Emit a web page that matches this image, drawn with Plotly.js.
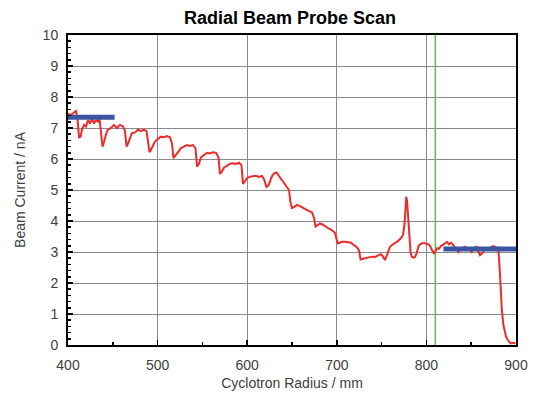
<!DOCTYPE html>
<html>
<head>
<meta charset="utf-8">
<script src="https://cdn.plot.ly/plotly-3.0.1.min.js"></script>
<style>html,body{margin:0;padding:0;background:#fff;}#chart{width:537px;height:399px;}</style>
</head>
<body>
<div id="chart"></div>
<script>
// Radial probe scan: radius (mm) and beam current (nA)
const radius = [400,403.3,406.7,408.9,410.6,412.3,414.0,415.6,417.9,420.1,422.3,424.6,426.8,429.0,431.3,433.5,435.2,436.8,438.5,440.2,442.4,444.6,448.0,451.3,454.7,458.0,461.4,463.6,465.3,467.0,469.2,471.4,474.8,478.1,481.5,484.8,487.6,489.3,491.0,492.6,494.9,497.1,500.4,503.8,507.1,510.5,513.8,516.1,517.7,519.4,522.8,526.1,529.5,532.8,536.2,539.5,542.3,544.0,546.2,548.4,551.8,555.1,558.5,561.8,565.2,568.0,569.6,571.9,574.1,577.5,580.8,584.2,587.5,590.9,593.6,595.3,597.5,599.8,603.1,606.5,609.8,613.2,616.5,618.8,621.5,623.8,625.5,627.7,630.5,632.9,635.5,638.8,642.2,644.4,646.7,648.3,650.0,652.2,655.6,658.9,662.3,665.6,669.0,672.3,674.6,676.2,677.9,681.3,684.6,688.0,691.3,694.7,698.0,699.9,701.3,703.6,705.8,709.2,712.5,715.9,719.2,722.6,724.8,726.5,729.3,732.6,735.9,739.3,742.6,746.0,749.3,751.6,753.8,756.0,759.4,762.7,766.1,768.3,771.7,773.9,775.6,776.7,777.5,778.4,779.8,781.2,782.3,783.6,785.6,787.3,789.0,791.0,792.9,795.1,798.5,801.8,804.0,806.3,808.5,810.2,811.8,814.1,816.3,818.5,820.8,823.0,825.2,827.5,829.7,831.9,834.2,835.8,837.5,840.9,843.1,845.3,847.6,850.4,852.0,854.3,856.2,857.6,859.8,862.1,865.4,868.8,872.1,874.7,877.7,880.3,882.2,884.1,885.9,888.9,892.2,894.5,896.7,899.5];
const current = [7.45,7.42,7.5,7.55,7.3,6.7,6.72,6.95,7.1,7.05,7.25,7.15,7.3,7.15,7.25,7.2,7.3,6.9,6.4,6.55,6.8,6.95,7.0,7.1,7.0,7.1,7.05,6.9,6.4,6.5,6.7,6.84,6.85,6.95,6.9,6.95,6.9,6.5,6.22,6.3,6.45,6.56,6.65,6.72,6.7,6.74,6.7,6.5,6.03,6.1,6.25,6.35,6.4,6.45,6.42,6.45,6.35,5.75,5.85,6.05,6.13,6.2,6.18,6.22,6.2,6.05,5.52,5.6,5.72,5.8,5.85,5.86,5.84,5.88,5.8,5.2,5.28,5.38,5.43,5.45,5.46,5.42,5.45,5.35,5.1,5.15,5.3,5.45,5.55,5.56,5.45,5.32,5.2,5.1,5.0,4.6,4.42,4.45,4.52,4.48,4.42,4.38,4.32,4.28,4.1,3.82,3.85,3.92,3.88,3.8,3.75,3.7,3.62,3.4,3.28,3.3,3.33,3.33,3.32,3.3,3.22,3.15,3.05,2.76,2.78,2.8,2.82,2.85,2.84,2.88,2.93,2.85,2.74,2.9,3.17,3.25,3.3,3.35,3.45,3.55,3.9,4.5,4.78,4.65,4.14,3.5,3.0,2.85,2.82,2.84,2.95,3.17,3.25,3.28,3.28,3.25,3.2,3.06,2.96,3.02,3.12,3.1,3.2,3.23,3.28,3.33,3.25,3.3,3.23,3.15,3.05,3.0,3.08,3.12,3.17,3.1,3.08,3.0,3.1,3.15,3.17,3.05,2.9,2.95,3.08,3.1,3.15,3.19,3.15,3.1,2.26,1.18,0.65,0.27,0.1,0.05,0.07,0.05];

// Reference levels (blue) and marker line (green)
const innerLevelX = [400, 452];
const innerLevelY = [7.35, 7.35];
const outerLevelX = [819, 900];
const outerLevelY = [3.1, 3.1];
const markerX = [810, 810];
const markerY = [0, 10];

const xTickVals = [400, 500, 600, 700, 800, 900];
const yTickVals = [0,1,2,3,4,5,6,7,8,9,10];

const traces = [
  {x: markerX, y: markerY, mode: 'lines', line: {color: '#5cbf4a', width: 1.5}, hoverinfo: 'skip'},
  {x: radius, y: current, mode: 'lines', line: {color: '#ee2b2b', width: 2}},
  {x: innerLevelX, y: innerLevelY, mode: 'lines', line: {color: '#3b54a4', width: 5}},
  {x: outerLevelX, y: outerLevelY, mode: 'lines', line: {color: '#3b54a4', width: 5}}
];

const fontFam = '"Liberation Sans", Arial, sans-serif';
const layout = {
  width: 537, height: 399,
  margin: {l: 68, r: 21, t: 35, b: 54},
  paper_bgcolor: '#fff', plot_bgcolor: '#fff',
  showlegend: false,
  font: {family: fontFam, size: 14, color: '#404040'},
  title: {text: '<b>Radial Beam Probe Scan</b>', font: {family: fontFam, size: 18, color: '#000'}, x: 0.54, xanchor: 'center', y: 0.955, yanchor: 'middle'},
  xaxis: {
    range: [400, 900], tickvals: xTickVals, ticktext: xTickVals.map(String),
    showgrid: true, gridcolor: '#8a8a8a', gridwidth: 1,
    zeroline: false, showline: true, linecolor: '#000', linewidth: 2, mirror: true,
    ticks: 'inside', ticklen: 5, tickcolor: '#000', tickwidth: 1.5,
    minor: {dtick: 50, ticks: 'inside', ticklen: 3, tickcolor: '#000', showgrid: false},
    tickfont: {size: 14, color: '#404040'}, ticklabelstandoff: 6,
    title: {text: 'Cyclotron Radius / mm', font: {size: 14, color: '#404040'}, standoff: 6}
  },
  yaxis: {
    range: [0, 10], tickvals: yTickVals, ticktext: yTickVals.map(String),
    showgrid: true, gridcolor: '#8a8a8a', gridwidth: 1,
    zeroline: false, showline: true, linecolor: '#000', linewidth: 2, mirror: true,
    ticks: 'inside', ticklen: 5, tickcolor: '#000', tickwidth: 1.5,
    minor: {dtick: 0.2, ticks: 'inside', ticklen: 3, tickcolor: '#000', showgrid: false},
    tickfont: {size: 14, color: '#404040'}, ticklabelstandoff: 5,
    title: {text: 'Beam Current / nA', font: {size: 14, color: '#404040'}, standoff: 14}
  }
};

Plotly.newPlot('chart', traces, layout, {displayModeBar: false, staticPlot: true});
</script>
</body>
</html>
